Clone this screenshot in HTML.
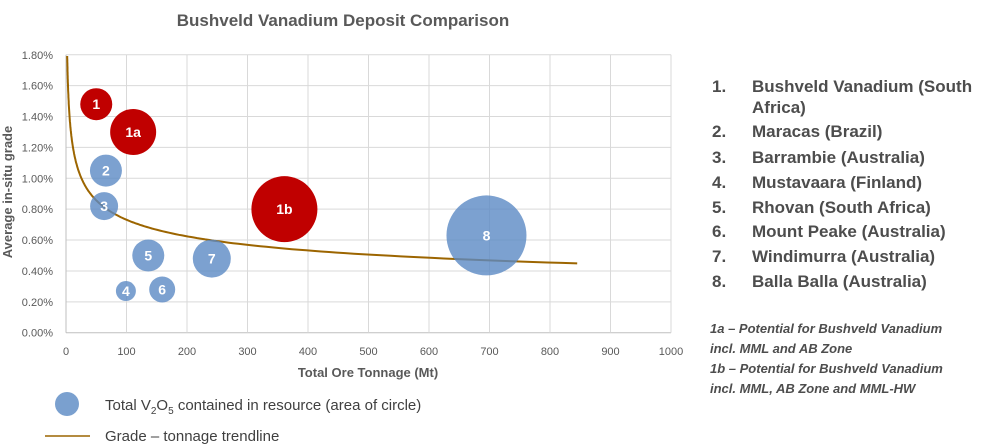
<!DOCTYPE html>
<html><head><meta charset="utf-8"><style>
body{margin:0;background:#fff;width:995px;height:446px;overflow:hidden;font-family:"Liberation Sans",sans-serif}
svg{position:absolute;left:0;top:0}
</style></head><body>
<svg id="chart" width="995" height="446">
<text x="343" y="26" text-anchor="middle" font-size="17" font-weight="bold" fill="#595959">Bushveld Vanadium Deposit Comparison</text>
<g id="grid"></g>
<g id="axes"></g>
<path id="trend" fill="none" stroke="#9c6500" stroke-width="2"></path>
<g id="bubbles"></g>
<text x="368" y="377" text-anchor="middle" font-size="13" font-weight="bold" fill="#595959">Total Ore Tonnage (Mt)</text>
<text transform="translate(12,192) rotate(-90)" text-anchor="middle" font-size="13" font-weight="bold" fill="#595959">Average in-situ grade</text>
<g font-size="17" font-weight="bold" fill="#4d4d4d">
<text x="712" y="92">1.</text><text x="752" y="92">Bushveld Vanadium (South</text><text x="752" y="113">Africa)</text>
<text x="712" y="137">2.</text><text x="752" y="137">Maracas (Brazil)</text>
<text x="712" y="163">3.</text><text x="752" y="163">Barrambie (Australia)</text>
<text x="712" y="188">4.</text><text x="752" y="188">Mustavaara (Finland)</text>
<text x="712" y="213">5.</text><text x="752" y="213">Rhovan (South Africa)</text>
<text x="712" y="237">6.</text><text x="752" y="237">Mount Peake (Australia)</text>
<text x="712" y="262">7.</text><text x="752" y="262">Windimurra (Australia)</text>
<text x="712" y="287">8.</text><text x="752" y="287">Balla Balla (Australia)</text>
</g>
<g font-size="13" font-weight="bold" font-style="italic" fill="#4d4d4d">
<text x="710" y="333">1a – Potential for Bushveld Vanadium</text>
<text x="710" y="353">incl. MML and AB Zone</text>
<text x="710" y="373">1b – Potential  for Bushveld Vanadium</text>
<text x="710" y="393">incl. MML, AB Zone and MML-HW</text>
</g>
<circle cx="67" cy="404" r="12" fill="#7aa0cf"/>
<text x="105" y="410" font-size="15" fill="#404040">Total V<tspan font-size="10" dy="4">2</tspan><tspan dy="-4">O</tspan><tspan font-size="10" dy="4">5</tspan><tspan dy="-4"> contained in resource (area of circle)</tspan></text>
<line x1="45" y1="436" x2="90" y2="436" stroke="#9c6500" stroke-width="1.5"/>
<text x="105" y="441" font-size="15" fill="#404040">Grade – tonnage trendline</text>
</svg>
<script>
const labels=["1","1a","1b","2","3","4","5","6","7","8"];
const tonnage=[50,111,361,66,63,99,136,159,241,695];
const grade=[1.48,1.30,0.80,1.05,0.82,0.27,0.50,0.28,0.48,0.63];
const contained=[256,529,1089,256,196,100,256,169,361,1600];
const isBushveld=[true,true,true,false,false,false,false,false,false,false];
const xTicks=[0,100,200,300,400,500,600,700,800,900,1000];
const yTicks=[0,0.2,0.4,0.6,0.8,1.0,1.2,1.4,1.6,1.8];
const trendA=2.10, trendC=0.229, trendStart=2, trendEnd=845;
const NS="http://www.w3.org/2000/svg";
const X=v=>66+v*0.605, Y=v=>332.7-v*154.4;
const grid=document.getElementById('grid'), axes=document.getElementById('axes');
function mk(t,a,p){const e=document.createElementNS(NS,t);for(const k in a)e.setAttribute(k,a[k]);p.appendChild(e);return e;}
yTicks.forEach(v=>{
 const l=mk('line',{x1:X(0),x2:X(1000),y1:Y(v),y2:Y(v),stroke:v===0?'#bfbfbf':'#d9d9d9'},grid);
 
 
 const t=mk('text',{x:53,y:Y(v)+4,'text-anchor':'end','font-size':11,fill:'#595959'},axes);
 t.textContent=v.toFixed(2)+'%';
 
 
});
xTicks.forEach(v=>{
 const l=mk('line',{x1:X(v),x2:X(v),y1:Y(1.8),y2:Y(0),stroke:v===0?'#bfbfbf':'#d9d9d9'},grid);
 
 
 const t=mk('text',{x:X(v),y:355,'text-anchor':'middle','font-size':11,fill:'#595959'},axes);
 t.textContent=v;
 
 
});
let d='';
for(let i=0;i<=200;i++){const x=trendStart*Math.pow(trendEnd/trendStart,i/200);const y=trendA*Math.pow(x,-trendC);d+=(i?'L':'M')+X(x).toFixed(1)+','+Y(y).toFixed(1);}
document.getElementById('trend').setAttribute('d',d);
const bg=document.getElementById('bubbles');
labels.forEach((lb,i)=>{
 const c=mk('circle',{cx:X(tonnage[i]),cy:Y(grade[i]),r:Math.sqrt(contained[i]),fill:isBushveld[i]?'#c00000':'#5b8ac4','fill-opacity':isBushveld[i]?1:0.8},bg);
 
 
 const t=mk('text',{x:X(tonnage[i]),y:Y(grade[i])+5,'text-anchor':'middle','font-size':14,'font-weight':'bold',fill:'#fff'},bg);
 t.textContent=lb;
 
 
});
</script>
</body></html>
